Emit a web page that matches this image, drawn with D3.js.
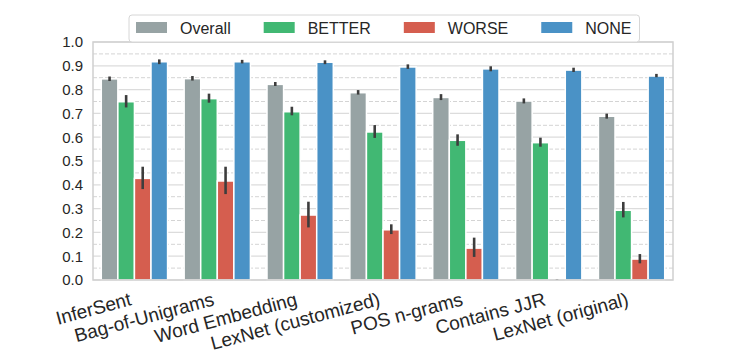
<!DOCTYPE html>
<html>
<head>
<meta charset="utf-8">
<script src="https://cdn.jsdelivr.net/npm/d3@7"></script>
<style>
  body { margin: 0; background: #fff; }
  text { font-family: "Liberation Sans", Arial, sans-serif; fill: #262626; }
</style>
</head>
<body>
<div id="chart"></div>
<script>
// categories on the x axis
var categories = ["InferSent", "Bag-of-Unigrams", "Word Embedding", "LexNet (customized)",
                  "POS n-grams", "Contains JJR", "LexNet (original)"];
var seriesNames = ["Overall", "BETTER", "WORSE", "NONE"];
var seriesColors = ["#97a3a4", "#41b873", "#d55e4f", "#4a92c6"];

// bar heights
var overall = [0.845, 0.846, 0.822, 0.787, 0.767, 0.752, 0.688];
var better  = [0.749, 0.762, 0.707, 0.622, 0.587, 0.577, 0.293];
var worse   = [0.427, 0.416, 0.273, 0.211, 0.134, 0.0,   0.088];
var none    = [0.917, 0.917, 0.915, 0.895, 0.887, 0.882, 0.857];

// error bar ranges (low, high)
var overallLo = [0.836, 0.838, 0.815, 0.779, 0.756, 0.742, 0.678];
var overallHi = [0.855, 0.857, 0.832, 0.798, 0.781, 0.763, 0.699];
var betterLo  = [0.725, 0.745, 0.692, 0.597, 0.564, 0.560, 0.263];
var betterHi  = [0.777, 0.783, 0.728, 0.651, 0.612, 0.598, 0.328];
var worseLo   = [0.382, 0.361, 0.221, 0.193, 0.097, 0.0,   0.070];
var worseHi   = [0.476, 0.476, 0.329, 0.234, 0.178, 0.003, 0.109];
var noneLo    = [0.907, 0.910, 0.907, 0.887, 0.877, 0.874, 0.852];
var noneHi    = [0.927, 0.925, 0.923, 0.906, 0.898, 0.892, 0.866];

var yTicks = [0.0, 0.1, 0.2, 0.3, 0.4, 0.5, 0.6, 0.7, 0.8, 0.9, 1.0];
var yMinorTicks = [0.05, 0.15, 0.25, 0.35, 0.45, 0.55, 0.65, 0.75, 0.85, 0.95];

var values = [overall, better, worse, none];
var lows = [overallLo, betterLo, worseLo, noneLo];
var highs = [overallHi, betterHi, worseHi, noneHi];

var width = 748, height = 350;
var margin = {top: 42, right: 75, bottom: 70, left: 93};
var w = width - margin.left - margin.right;
var h = height - margin.top - margin.bottom;

var svg = d3.select("#chart").append("svg")
    .attr("width", width)
    .attr("height", height);

var g = svg.append("g")
    .attr("transform", "translate(" + margin.left + "," + margin.top + ")");

var x0 = d3.scaleBand().domain(categories).range([0, w]).paddingInner(0.2).paddingOuter(0.1);
var x1 = d3.scaleBand().domain(seriesNames).range([0, x0.bandwidth()]);
var y = d3.scaleLinear().domain([0, 1.0]).range([h, 0]);

// grid lines
g.selectAll(".minor").data(yMinorTicks).enter().append("line")
    .attr("x1", 0).attr("x2", w)
    .attr("y1", function(d) { return y(d); }).attr("y2", function(d) { return y(d); })
    .attr("stroke", "#d4d4d4").attr("stroke-width", 1).attr("stroke-dasharray", "4,2");
g.selectAll(".major").data(yTicks).enter().append("line")
    .attr("x1", 0).attr("x2", w)
    .attr("y1", function(d) { return y(d); }).attr("y2", function(d) { return y(d); })
    .attr("stroke", "#dcdcdc").attr("stroke-width", 1.2);

// flatten data into bars
var bars = [];
categories.forEach(function(c, i) {
    seriesNames.forEach(function(s, j) {
        bars.push({cat: c, series: s, color: seriesColors[j],
                   value: values[j][i], lo: lows[j][i], hi: highs[j][i]});
    });
});

g.selectAll(".bar").data(bars).enter().append("rect")
    .attr("x", function(d) { return x0(d.cat) + x1(d.series); })
    .attr("width", x1.bandwidth())
    .attr("y", function(d) { return y(d.value); })
    .attr("height", function(d) { return h - y(d.value); })
    .attr("fill", function(d) { return d.color; })
    .attr("stroke", "#fff")
    .attr("stroke-width", 1.5);

// error bars
g.selectAll(".err").data(bars).enter().append("line")
    .attr("x1", function(d) { return x0(d.cat) + x1(d.series) + x1.bandwidth() / 2; })
    .attr("x2", function(d) { return x0(d.cat) + x1(d.series) + x1.bandwidth() / 2; })
    .attr("y1", function(d) { return y(d.lo); })
    .attr("y2", function(d) { return y(d.hi); })
    .attr("stroke", "#3d3d3d")
    .attr("stroke-width", 2.6);

// axes frame
g.append("rect")
    .attr("x", 0).attr("y", 0).attr("width", w).attr("height", h)
    .attr("fill", "none").attr("stroke", "#cfcfcf").attr("stroke-width", 1.5);

// y tick labels
g.selectAll(".ylab").data(yTicks).enter().append("text")
    .attr("x", -10)
    .attr("y", function(d) { return y(d); })
    .attr("dy", "0.36em")
    .attr("text-anchor", "end")
    .style("font-size", "15px")
    .text(function(d) { return d.toFixed(1); });

// x tick labels, rotated and right aligned to the group centre
g.selectAll(".xlab").data(categories).enter().append("text")
    .attr("transform", function(d) {
        return "translate(" + (x0(d) + x0.bandwidth() / 2 - 2) + "," + (h + 25) + ") rotate(-15)";
    })
    .attr("text-anchor", "end")
    .style("font-size", "19px")
    .text(function(d) { return d; });

// legend
var legend = svg.append("g");
var legendBox = legend.append("rect")
    .attr("x", 129).attr("y", 15).attr("width", 509).attr("height", 27)
    .attr("rx", 3)
    .attr("fill", "#fff").attr("stroke", "#d6d6d6").attr("stroke-width", 1);

var lx = 136;
seriesNames.forEach(function(s, j) {
    legend.append("rect")
        .attr("x", lx).attr("y", 22).attr("width", 31).attr("height", 11)
        .attr("fill", seriesColors[j]);
    var t = legend.append("text")
        .attr("x", lx + 44).attr("y", 33.5)
        .style("font-size", "16px")
        .text(s);
    lx += 44 + t.node().getComputedTextLength() + 33;
});
legendBox.attr("width", lx - 33 + 8 - 129);
</script>
</body>
</html>
